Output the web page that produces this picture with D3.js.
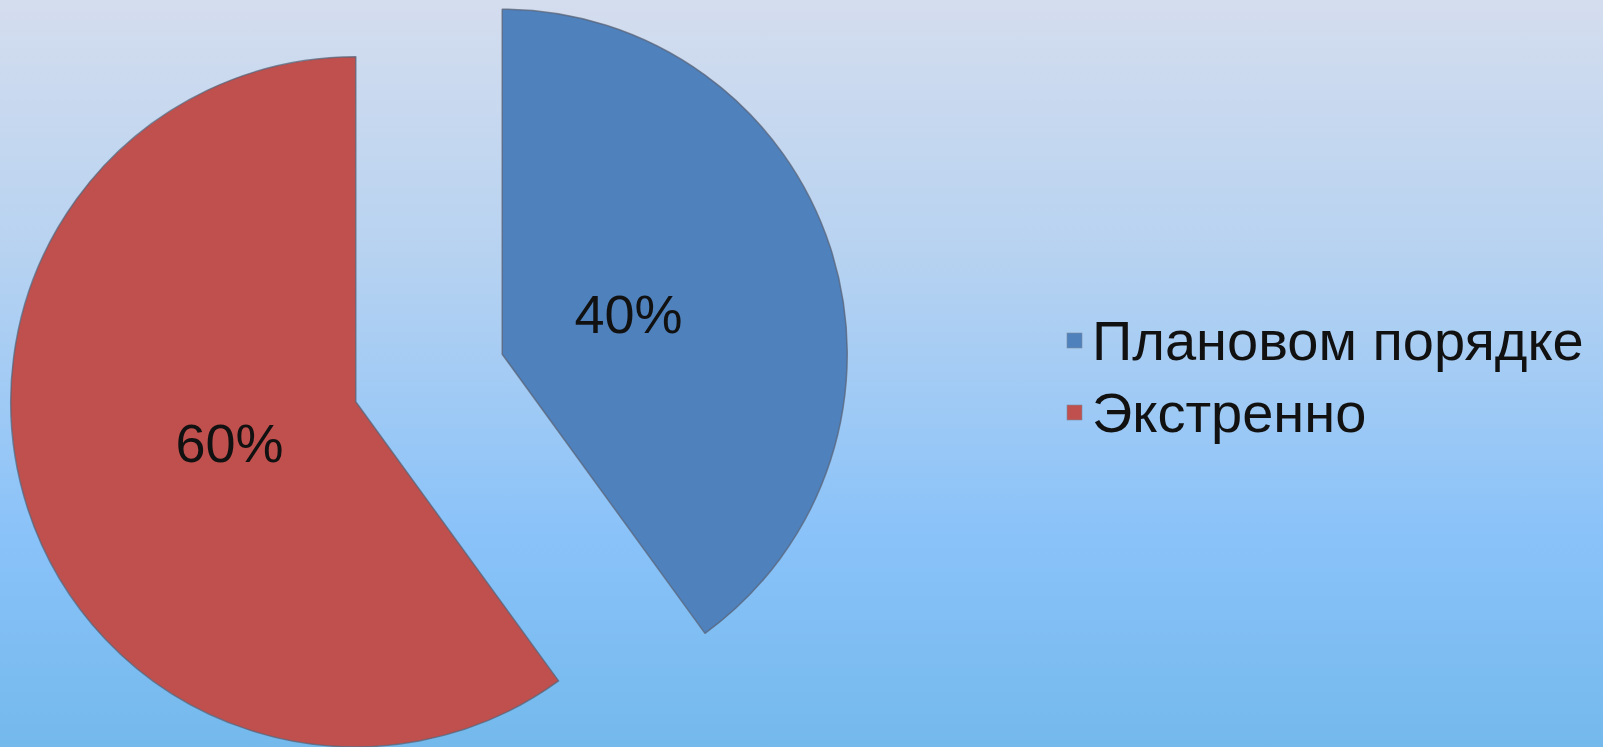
<!DOCTYPE html>
<html>
<head>
<meta charset="utf-8">
<script src="https://cdn.jsdelivr.net/npm/d3@7"></script>
<style>
  html, body { margin: 0; padding: 0; overflow: hidden; }
  svg { display: block; }
</style>
</head>
<body>
<svg id="chart" width="1603" height="747"></svg>
<script>
// Способ госпитализации
const categories = ["Плановом порядке", "Экстренно"];
const values = [40, 60];
const labels = ["40%", "60%"];
const colors = ["#4F81BD", "#C0504D"];

const W = 1603, H = 747;
const svg = d3.select("#chart");

// фон: вертикальный градиент
const defs = svg.append("defs");
const grad = defs.append("linearGradient")
  .attr("id", "bg").attr("x1", 0).attr("y1", 0).attr("x2", 0).attr("y2", 1);
[[0, "#D4DDEE"], [0.35, "#B6D2F1"], [0.72, "#89C2F9"], [1, "#74B9EC"]]
  .forEach(([o, c]) => grad.append("stop").attr("offset", o).attr("stop-color", c));
svg.append("rect").attr("width", W).attr("height", H).attr("fill", "url(#bg)");

// круговая диаграмма с выдвинутыми секторами
const cx = 429, cy = 378, R = 345, explode = 77;
const pie = d3.pie().sort(null).value(d => d);
const arc = d3.arc().innerRadius(0).outerRadius(R);
const arcs = pie(values);

const g = svg.append("g").attr("transform", `translate(${cx},${cy})`);
const slice = g.selectAll("g.slice").data(arcs).join("g")
  .attr("class", "slice")
  .attr("transform", d => {
    const a = (d.startAngle + d.endAngle) / 2;
    return `translate(${Math.sin(a) * explode},${-Math.cos(a) * explode})`;
  });

slice.append("path")
  .attr("d", arc)
  .attr("fill", (d, i) => colors[i])
  .attr("stroke", "#5a6478")
  .attr("stroke-opacity", 0.75)
  .attr("stroke-width", 1.5)
  .attr("stroke-linejoin", "round");

const labelFont = "'Comic Sans MS', 'Liberation Sans', sans-serif";
slice.append("text")
  .attr("x", d => Math.sin((d.startAngle + d.endAngle) / 2) * R * 0.385)
  .attr("y", d => -Math.cos((d.startAngle + d.endAngle) / 2) * R * 0.385)
  .attr("dy", "0.36em")
  .attr("text-anchor", "middle")
  .attr("font-family", labelFont)
  .attr("font-size", 54)
  .attr("fill", "#111")
  .text((d, i) => labels[i]);

// легенда
const legend = svg.append("g").attr("transform", "translate(1067,333)");
const item = legend.selectAll("g").data(categories).join("g")
  .attr("transform", (d, i) => `translate(0,${i * 72})`);
item.append("rect")
  .attr("width", 15).attr("height", 15)
  .attr("fill", (d, i) => colors[i])
  .attr("stroke", "#7a8aa0").attr("stroke-width", 0.6);
item.append("text")
  .attr("x", 25).attr("y", 27)
  .attr("font-family", labelFont)
  .attr("font-size", 56)
  .attr("fill", "#111")
  .text(d => d);
</script>
</body>
</html>
